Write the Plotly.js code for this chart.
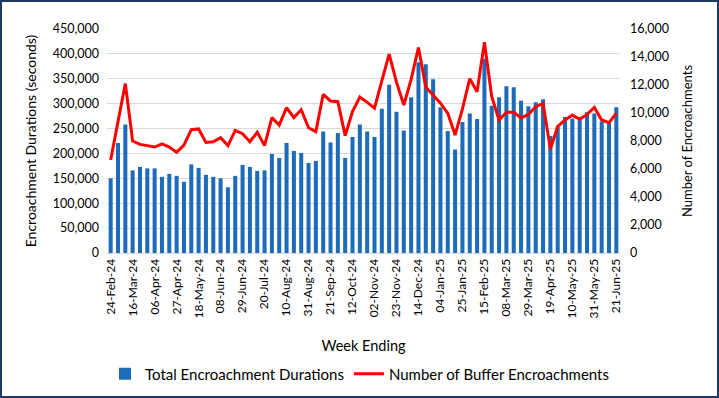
<!DOCTYPE html>
<html>
<head>
<meta charset="utf-8">
<script src="https://cdn.plot.ly/plotly-3.0.1.min.js"></script>
<style>
  html, body { margin: 0; padding: 0; background: #ffffff; }
  #wrap { position: relative; width: 719px; height: 398px; }
  #chart { width: 719px; height: 398px; }
  #frame { position: absolute; left: 0; top: 0; width: 719px; height: 398px; box-sizing: border-box; border: 2px solid #1F3864; pointer-events: none; }
</style>
</head>
<body>
<div id="wrap"><div id="chart"></div><div id="frame"></div></div>
<script>
const weeks = [
  "24-Feb-24","02-Mar-24","09-Mar-24","16-Mar-24","23-Mar-24","30-Mar-24","06-Apr-24","13-Apr-24","20-Apr-24","27-Apr-24",
  "04-May-24","11-May-24","18-May-24","25-May-24","01-Jun-24","08-Jun-24","15-Jun-24","22-Jun-24","29-Jun-24","06-Jul-24",
  "13-Jul-24","20-Jul-24","27-Jul-24","03-Aug-24","10-Aug-24","17-Aug-24","24-Aug-24","31-Aug-24","07-Sep-24","14-Sep-24",
  "21-Sep-24","28-Sep-24","05-Oct-24","12-Oct-24","19-Oct-24","26-Oct-24","02-Nov-24","09-Nov-24","16-Nov-24","23-Nov-24",
  "30-Nov-24","07-Dec-24","14-Dec-24","21-Dec-24","28-Dec-24","04-Jan-25","11-Jan-25","18-Jan-25","25-Jan-25","01-Feb-25",
  "08-Feb-25","15-Feb-25","22-Feb-25","01-Mar-25","08-Mar-25","15-Mar-25","22-Mar-25","29-Mar-25","05-Apr-25","12-Apr-25",
  "19-Apr-25","26-Apr-25","03-May-25","10-May-25","17-May-25","24-May-25","31-May-25","07-Jun-25","14-Jun-25","21-Jun-25"
];

const tickLabels = [
  "24-Feb-24","16-Mar-24","06-Apr-24","27-Apr-24","18-May-24","08-Jun-24","29-Jun-24","20-Jul-24",
  "10-Aug-24","31-Aug-24","21-Sep-24","12-Oct-24","02-Nov-24","23-Nov-24","14-Dec-24","04-Jan-25",
  "25-Jan-25","15-Feb-25","08-Mar-25","29-Mar-25","19-Apr-25","10-May-25","31-May-25","21-Jun-25"
];

const durations = [
  150000,221000,258000,166000,173000,170000,170000,153000,159000,155000,
  143000,178000,171000,157000,153000,150000,132000,155000,177000,173000,
  165000,166000,199000,191000,221000,205000,201000,181000,185000,244000,
  222000,241000,191000,233000,258000,244000,233000,290000,338000,284000,
  246000,313000,383000,379000,349000,293000,245000,208000,263000,280000,
  269000,390000,296000,313000,335000,333000,306000,295000,303000,309000,
  235000,253000,273000,270000,269000,283000,280000,264000,261000,293000
];

const encroachments = [
  6640,9380,12100,8000,7760,7670,7570,7800,7570,7190,
  7710,8810,8860,7900,7950,8240,7670,8760,8520,7950,
  8620,7670,9670,9140,10380,9670,10240,8950,8670,11330,
  10860,10810,8380,10100,11140,10760,10350,12300,14200,12200,
  10570,12400,14680,11850,11300,10700,9980,8430,10300,12450,
  11520,15050,11170,9500,10050,10050,9650,9900,10450,10690,
  7420,9050,9500,9850,9550,9900,10400,9500,9310,9980
];

const FONT = "Lato, 'Open Sans', sans-serif";

const traces = [
  {
    type: "bar",
    name: "Total Encroachment Durations",
    x: weeks,
    y: durations,
    marker: { color: "#1C6CBA" },
    yaxis: "y"
  },
  {
    type: "scatter",
    mode: "lines",
    name: "Number of Buffer Encroachments",
    x: weeks,
    y: encroachments,
    line: { color: "#FF0000", width: 3 },
    yaxis: "y2"
  }
];

const layout = {
  width: 719,
  height: 398,
  margin: { l: 107, r: 99, t: 29, b: 145 },
  paper_bgcolor: "#ffffff",
  plot_bgcolor: "#ffffff",
  font: { family: FONT, size: 12, color: "#000000" },
  bargap: 0.45,
  showlegend: true,
  legend: {
    orientation: "h",
    xref: "container", yref: "container",
    x: 0.5, xanchor: "center",
    y: 0.06, yanchor: "middle",
    font: { family: FONT, size: 15, color: "#000000" },
    traceorder: "normal",
    itemwidth: 30
  },
  xaxis: {
    type: "category",
    tickmode: "array",
    tickvals: tickLabels,
    ticktext: tickLabels,
    tickangle: -90,
    tickfont: { family: FONT, size: 12 },
    showgrid: false,
    showline: true,
    linecolor: "#d9d9d9",
    linewidth: 1,
    ticks: "",
    automargin: false,
    title: { text: "Week Ending", font: { family: FONT, size: 14.5 }, standoff: 23 }
  },
  yaxis: {
    range: [0, 450000],
    dtick: 50000,
    tickformat: ",d",
    tickfont: { family: FONT, size: 12.5 },
    ticklabelstandoff: 7,
    showgrid: true,
    gridcolor: "#d9d9d9",
    gridwidth: 1,
    zeroline: false,
    showline: false,
    ticks: "",
    automargin: false,
    title: { text: "Encroachment Durations (seconds)", font: { family: FONT, size: 14 }, standoff: 12 }
  },
  yaxis2: {
    overlaying: "y",
    side: "right",
    range: [0, 16000],
    dtick: 2000,
    tickformat: ",d",
    tickfont: { family: FONT, size: 12.5 },
    ticklabelstandoff: 9,
    showgrid: false,
    zeroline: false,
    showline: false,
    ticks: "",
    automargin: false,
    title: { text: "Number of Encroachments", font: { family: FONT, size: 13 }, standoff: 14 }
  }
};

Plotly.newPlot("chart", traces, layout, { displayModeBar: false, staticPlot: true });
</script>
</body>
</html>
